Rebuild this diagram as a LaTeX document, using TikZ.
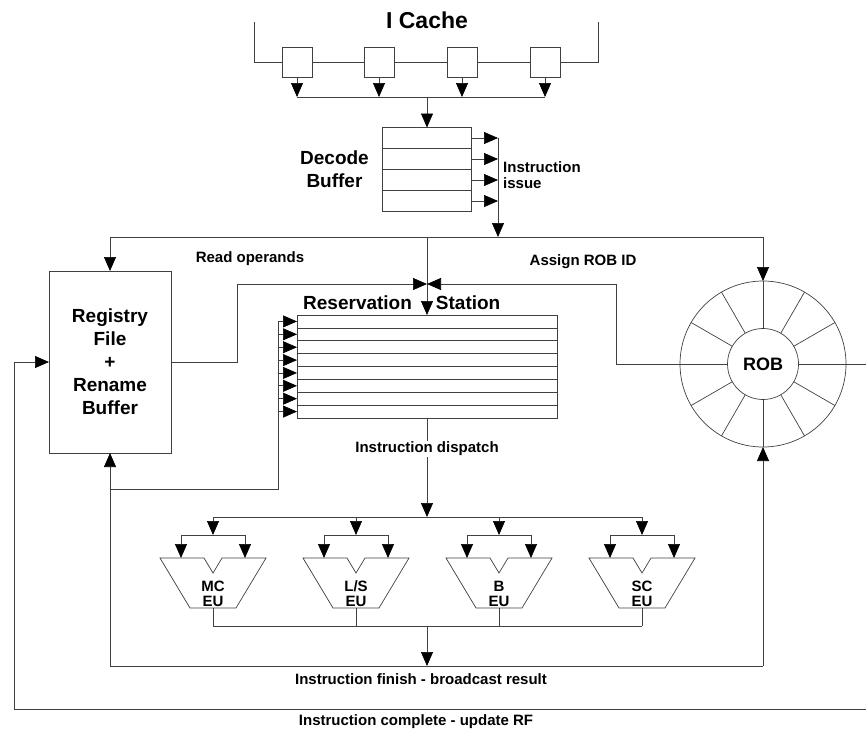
\documentclass[tikz,border=0pt]{standalone}
\usepackage{fontspec}
\setmainfont{Liberation Sans}
\usetikzlibrary{arrows.meta,calc}
\tikzset{
	wire/.style = {draw=black!75, line width=0.7pt},
	arr/.style = {wire, -{Triangle[length=14pt,width=12pt,color=black]}},
	slot/.style = {wire, fill=white, minimum size=30pt, inner sep=0pt, outer sep=0pt},
	blk/.style = {wire, fill=white, inner sep=0pt, outer sep=0pt},
	bigtxt/.style = {font=\bfseries\fontsize{19}{23}\selectfont, align=center, inner sep=1pt},
	smalltxt/.style = {font=\bfseries\fontsize{15}{16}\selectfont, align=center, inner sep=1pt},
}
\begin{document}
\begin{tikzpicture}[x=1pt, y=-1pt]
	\useasboundingbox (0,0) rectangle (866,732);
	\node [bigtxt, font=\bfseries\fontsize{23}{25}\selectfont] (icache) at (427,20) {I Cache};
	\coordinate (cacheL) at (254,22);
	\coordinate (cacheR) at (598,22);
	\coordinate (fetch) at (427,97);
	\foreach \i/\x in {1/297,2/379,3/462,4/545}
		\node [slot] (slot\i) at (\x,62) {};
	\draw [wire] (cacheL) |- (slot1.west) (slot1.east) -- (slot2.west) (slot2.east) -- (slot3.west) (slot3.east) -- (slot4.west) (slot4.east) -| (cacheR);
	\foreach \i in {1,...,4}
		\draw [arr] (slot\i.south) -- (slot\i.south |- fetch);
	\draw [wire] (slot1.south |- fetch) -- (slot4.south |- fetch);

	\node [blk, minimum width=89pt, minimum height=84pt] (decode) at (427,169.5) {};
	\foreach \k in {1,2,3}
		\draw [wire] ($(decode.north west)!\k/4!(decode.south west)$) -- ($(decode.north east)!\k/4!(decode.south east)$);
	\node [bigtxt, anchor=east] (decodelbl) at (370,169) {Decode\\Buffer};
	\draw [arr] (fetch) -- (decode.north);

	\coordinate (issue) at (498,237);
	\foreach \k/\f in {1/0.125,2/0.375,3/0.625,4/0.875} {
		\coordinate (row\k) at ($(decode.north east)!\f!(decode.south east)$);
		\draw [arr] (row\k) -- (row\k -| issue);
	}
	\draw [arr] (row1 -| issue) -- (issue);
	\node [smalltxt, anchor=west, align=left] (issuelbl) at (502,175) {Instruction\\issue};

	\node [blk, bigtxt, minimum width=122pt, minimum height=182pt] (regfile) at (110,362) {Registry\\File\\+\\Rename\\Buffer};
	\node [blk, minimum width=260pt, minimum height=103pt] (rs) at (427,366.5) {};
	\foreach \k in {1,...,7}
		\draw [wire] ($(rs.north west)!\k/8!(rs.south west)$) -- ($(rs.north east)!\k/8!(rs.south east)$);
	\node [bigtxt, anchor=west] (rslbl) at (302,303) {Reservation\hspace{24pt}Station};

	\node [circle, wire, minimum size=166pt, inner sep=0pt, outer sep=0pt] (rob) at (763,364) {};
	\node [circle, wire, fill=white, minimum size=71pt, inner sep=0pt, outer sep=0pt, font=\bfseries\fontsize{18}{20}\selectfont] (robcore) at (rob.center) {ROB};
	\foreach \a in {0,30,...,330}
		\draw [wire] (robcore.\a) -- (rob.\a);
	\coordinate (robout) at (866,364);
	\draw [wire] (rob.east) -- (robout);

	\coordinate (busL) at (110,237);
	\coordinate (busM) at (427,237);
	\coordinate (busR) at (763,237);
	\draw [wire] (busL) -- (busR);
	\draw [arr] (busL) -- (regfile.north);
	\draw [arr] (busR) -- (rob.north);
	\draw [arr] (busM) -- (rs.north);
	\node [smalltxt] (readlbl) at (250,259) {Read operands};
	\node [smalltxt] (assignlbl) at (583,262) {Assign ROB ID};

	\coordinate (rsin) at (427,284);
	\draw [arr] (regfile.east) -- ++(66,0) |- (rsin);
	\draw [arr] (rob.west) -- ++(-64,0) |- (rsin);

	\coordinate (comb) at (278,489);
	\foreach \k in {1,...,8} {
		\pgfmathsetmacro\f{(\k-0.5)/8}
		\coordinate (rsrow\k) at ($(rs.north west)!\f!(rs.south west)$);
		\draw [arr] (rsrow\k -| comb) -- (rsrow\k);
	}
	\draw [wire] (regfile.south |- comb) -- (comb) -- (comb |- rsrow1);

	\coordinate (disp) at (427,517);
	\coordinate (collect) at (427,626);
	\draw [arr] (rs.south) -- (disp);
	\node [smalltxt, fill=white] (displbl) at (427,449) {Instruction dispatch};
	\foreach \i/\x/\t in {1/213/MC,2/356/{L/S},3/499/B,4/642/SC} {
		\coordinate (eutop\i) at (\x,535);
		\coordinate (eubot\i) at (\x,608);
		\draw [arr] (eutop\i |- disp) -- (eutop\i);
		\draw [wire] ($(eutop\i)+(-32,0)$) -- ($(eutop\i)+(32,0)$);
		\draw [arr] ($(eutop\i)+(-32,0)$) -- ++(0,23);
		\draw [arr] ($(eutop\i)+(32,0)$) -- ++(0,23);
		\draw [wire, fill=white] (\x-53,558) -- (\x-9,558) -- (\x,573) -- (\x+9,558) -- (\x+53,558) -- (\x+23,608) -- (\x-23,608) -- cycle;
		\node [smalltxt, font=\bfseries\fontsize{15}{15}\selectfont] (eu\i) at (\x,594) {\t\\EU};
		\draw [wire] (eubot\i) -- (eubot\i |- collect);
	}
	\draw [wire] (disp -| eutop1) -- (disp -| eutop4);
	\draw [wire] (eubot1 |- collect) -- (eubot4 |- collect);

	\coordinate (finish) at (427,666);
	\coordinate (finL) at (110,666);
	\coordinate (finR) at (763,666);
	\draw [arr] (collect) -- (finish);
	\draw [wire] (finL) -- (finR);
	\draw [arr] (finL) -- (regfile.south);
	\draw [arr] (finR) -- (rob.south);
	\node [smalltxt] (finlbl) at (421,679) {Instruction finish - broadcast result};

	\coordinate (cplL) at (14,709);
	\coordinate (cplR) at (866,709);
	\draw [arr] (cplR) -- (cplL) |- (regfile.west);
	\node [smalltxt] (cpllbl) at (416,722) {Instruction complete - update RF};
\end{tikzpicture}
\end{document}
